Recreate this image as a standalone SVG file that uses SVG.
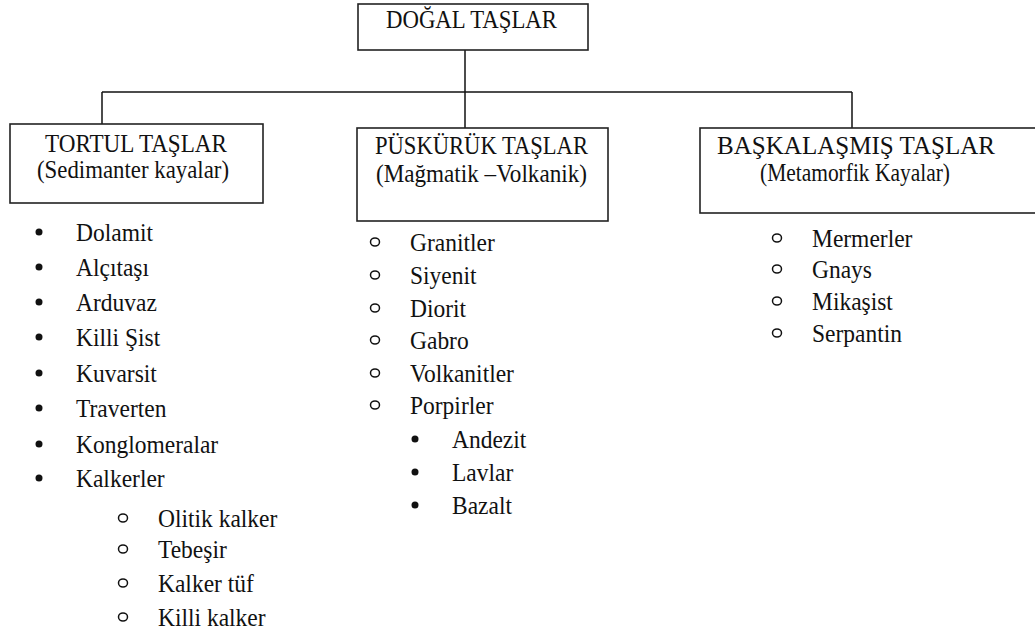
<svg xmlns="http://www.w3.org/2000/svg" width="1035" height="630" viewBox="0 0 1035 630">
<style>
  .box{fill:#fff;stroke:#222;stroke-width:1.6}
  .conn line{stroke:#111;stroke-width:1.5}
  .t,.li{font-family:"Liberation Serif","Times New Roman",serif;fill:#111;transform-box:fill-box;transform-origin:0 80.5%;transform:scaleY(1.1)}
  .t{font-size:23px;text-anchor:middle}
  .li{font-size:23.5px}
  .dot{fill:#111}
  .ring{fill:none;stroke:#111;stroke-width:1.5}
</style>
<rect width="1035" height="630" fill="#fff"/>
<g id="connectors" class="conn">
  <line x1="465" y1="50" x2="465" y2="92"/>
  <line x1="102" y1="92" x2="852" y2="92"/>
  <line x1="102" y1="92" x2="102" y2="124"/>
  <line x1="465" y1="92" x2="465" y2="128"/>
  <line x1="852" y1="92" x2="852" y2="128"/>
</g>
<g id="dogal">
  <rect class="box" x="358" y="4" width="230" height="46"/>
  <text class="t" x="471.5" y="28" textLength="171" lengthAdjust="spacingAndGlyphs">DOĞAL TAŞLAR</text>
</g>
<g id="tortul">
  <rect class="box" x="10" y="124" width="253" height="79"/>
  <text class="t" x="136" y="152" textLength="182" lengthAdjust="spacingAndGlyphs">TORTUL TAŞLAR</text>
  <text class="t" x="133" y="178" textLength="192" lengthAdjust="spacingAndGlyphs">(Sedimanter kayalar)</text>
</g>
<g id="puskuruk">
  <rect class="box" x="357" y="128" width="251" height="93"/>
  <text class="t" x="481.5" y="154" textLength="213" lengthAdjust="spacingAndGlyphs">PÜSKÜRÜK TAŞLAR</text>
  <text class="t" x="481.5" y="182" textLength="211" lengthAdjust="spacingAndGlyphs">(Mağmatik –Volkanik)</text>
</g>
<g id="baskalasmis">
  <rect class="box" x="700" y="128" width="345" height="85"/>
  <text class="t" x="856" y="154" textLength="278" lengthAdjust="spacingAndGlyphs">BAŞKALAŞMIŞ TAŞLAR</text>
  <text class="t" x="855" y="181" textLength="190" lengthAdjust="spacingAndGlyphs">(Metamorfik Kayalar)</text>
</g>
<g id="tortul-list">
  <circle class="dot" cx="39" cy="232" r="3.5"/><text class="li" x="76" y="240.5">Dolamit</text>
  <circle class="dot" cx="39" cy="267" r="3.5"/><text class="li" x="76" y="275.5">Alçıtaşı</text>
  <circle class="dot" cx="39" cy="302" r="3.5"/><text class="li" x="76" y="310.5">Arduvaz</text>
  <circle class="dot" cx="39" cy="337" r="3.5"/><text class="li" x="76" y="345.5">Killi Şist</text>
  <circle class="dot" cx="39" cy="373" r="3.5"/><text class="li" x="76" y="381.5">Kuvarsit</text>
  <circle class="dot" cx="39" cy="408" r="3.5"/><text class="li" x="76" y="416.5">Traverten</text>
  <circle class="dot" cx="39" cy="444" r="3.5"/><text class="li" x="76" y="452.5">Konglomeralar</text>
  <circle class="dot" cx="39" cy="478" r="3.5"/><text class="li" x="76" y="486.5">Kalkerler</text>
  <ellipse class="ring" cx="123" cy="518" rx="4.5" ry="4"/><text class="li" x="158" y="526.5">Olitik kalker</text>
  <ellipse class="ring" cx="123" cy="549" rx="4.5" ry="4"/><text class="li" x="158" y="557.5">Tebeşir</text>
  <ellipse class="ring" cx="123" cy="583" rx="4.5" ry="4"/><text class="li" x="158" y="591.5">Kalker tüf</text>
  <ellipse class="ring" cx="123" cy="617" rx="4.5" ry="4"/><text class="li" x="158" y="625.5">Killi kalker</text>
</g>
<g id="puskuruk-list">
  <ellipse class="ring" cx="375" cy="242" rx="4.5" ry="4"/><text class="li" x="410" y="250.5">Granitler</text>
  <ellipse class="ring" cx="375" cy="275" rx="4.5" ry="4"/><text class="li" x="410" y="283.5">Siyenit</text>
  <ellipse class="ring" cx="375" cy="308" rx="4.5" ry="4"/><text class="li" x="410" y="316.5">Diorit</text>
  <ellipse class="ring" cx="375" cy="340" rx="4.5" ry="4"/><text class="li" x="410" y="348.5">Gabro</text>
  <ellipse class="ring" cx="375" cy="373" rx="4.5" ry="4"/><text class="li" x="410" y="381.5">Volkanitler</text>
  <ellipse class="ring" cx="375" cy="405" rx="4.5" ry="4"/><text class="li" x="410" y="413.5">Porpirler</text>
  <circle class="dot" cx="415" cy="439" r="3.5"/><text class="li" x="452" y="447.5">Andezit</text>
  <circle class="dot" cx="415" cy="472" r="3.5"/><text class="li" x="452" y="480.5">Lavlar</text>
  <circle class="dot" cx="415" cy="505" r="3.5"/><text class="li" x="452" y="513.5">Bazalt</text>
</g>
<g id="baskalasmis-list">
  <ellipse class="ring" cx="777" cy="238" rx="4.5" ry="4"/><text class="li" x="812" y="246.5">Mermerler</text>
  <ellipse class="ring" cx="777" cy="269" rx="4.5" ry="4"/><text class="li" x="812" y="277.5">Gnays</text>
  <ellipse class="ring" cx="777" cy="301" rx="4.5" ry="4"/><text class="li" x="812" y="309.5">Mikaşist</text>
  <ellipse class="ring" cx="777" cy="333" rx="4.5" ry="4"/><text class="li" x="812" y="341.5">Serpantin</text>
</g>
</svg>
